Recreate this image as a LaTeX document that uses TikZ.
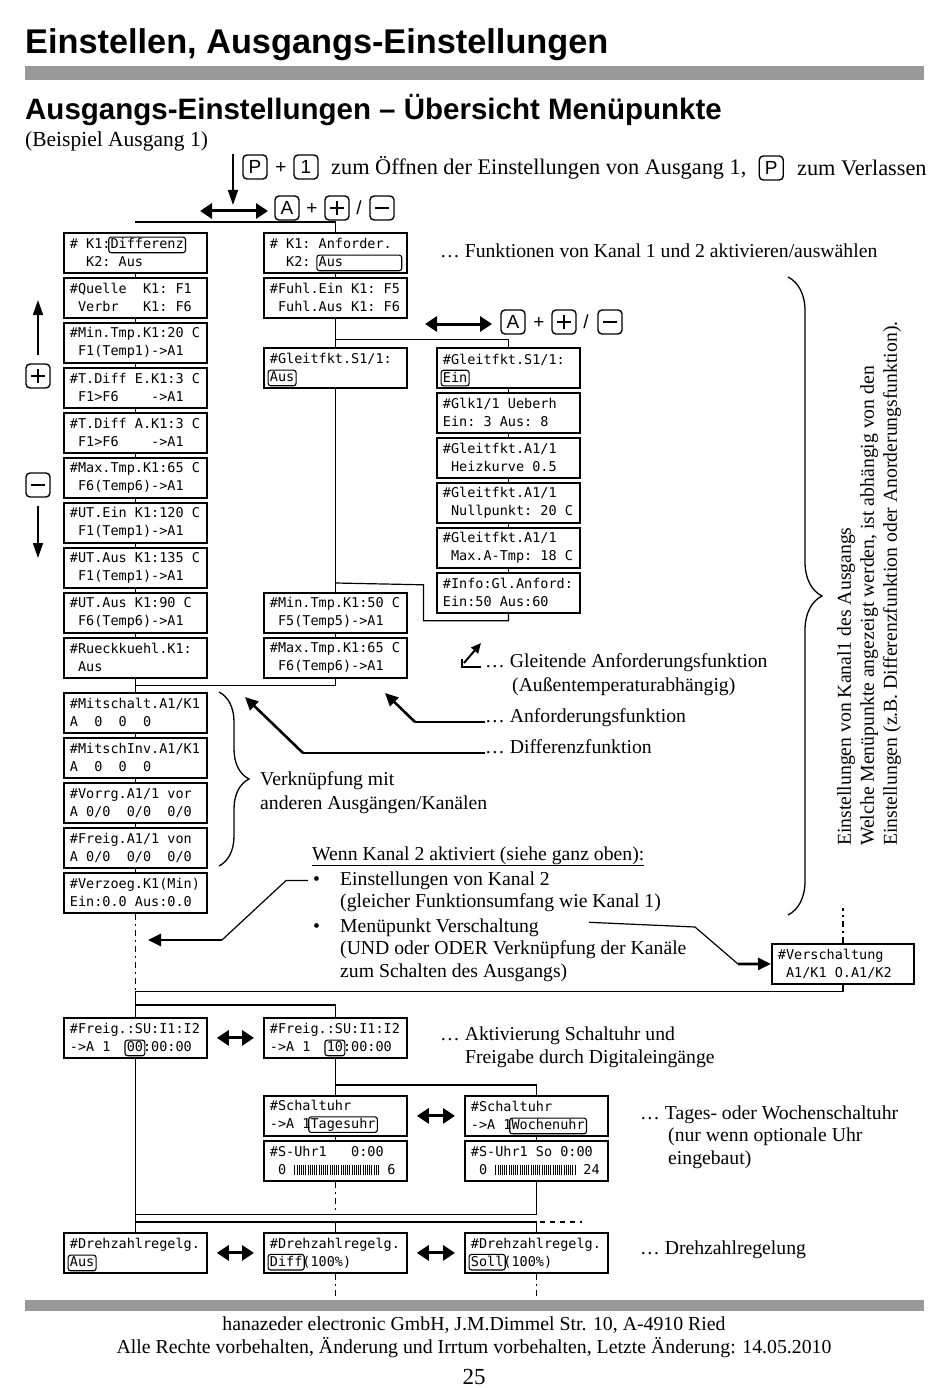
\documentclass[tikz,border=0pt]{standalone}
\usepackage{fontspec}
\setmainfont{Liberation Serif}
\newfontfamily\headfont{Liberation Sans}
\newfontfamily\lcdfont{DejaVu Sans Mono}
\usetikzlibrary{arrows.meta,decorations.pathreplacing,positioning,calc}
\newcommand\lcdf{\lcdfont\fontsize{13.5}{18}\selectfont\def~{\leavevmode\hphantom{0}}}
\newcommand\txtf{\fontsize{19.7}{22.5}\selectfont}
\newcommand\keyf{\headfont\fontsize{19}{22}\selectfont}
\newsavebox\hlbox
\newcommand\hl[1]{\sbox\hlbox{#1}\usebox\hlbox\hskip-\wd\hlbox\tikz[x=1pt,y=1pt,baseline=0pt]{\useasboundingbox (0pt,0pt) rectangle (\wd\hlbox,1pt);\draw[line width=1.1pt,rounded corners=2.5pt] (-1.8pt,-3.8pt) rectangle (\wd\hlbox+1.8pt,11.8pt);}}
\newcommand\bars[2]{\tikz[x=1pt,y=1pt,baseline=0pt]{\useasboundingbox (0pt,0pt) rectangle (#1pt,1pt);\foreach \i in {0,...,#2} \draw[line width=0.7pt] (\i*2.2pt+0.5pt,0pt) -- ++(0pt,9.5pt);}}
\tikzset{
 lcd/.style={draw,line width=1.8pt,fill=white,minimum width=143pt,minimum height=40pt,text width=131pt,inner xsep=6pt,inner ysep=1pt,align=left,anchor=north west,font=\lcdf},
 conn/.style={line width=1.2pt},
 dashc/.style={line width=1.2pt,dash pattern=on 6pt off 4pt on 2pt off 4pt},
 key/.style={draw,line width=1.4pt,rounded corners=4pt,minimum width=24pt,minimum height=24pt,inner sep=0pt,font=\keyf},
 pluskey/.style={key,path picture={\draw[line width=2.2pt] ([xshift=-7pt]path picture bounding box.center) -- ([xshift=7pt]path picture bounding box.center) ([yshift=-7pt]path picture bounding box.center) -- ([yshift=7pt]path picture bounding box.center);}},
 minuskey/.style={key,path picture={\draw[line width=2.2pt] ([xshift=-7pt]path picture bounding box.center) -- ([xshift=7pt]path picture bounding box.center);}},
 sym/.style={inner sep=0pt,font=\headfont\fontsize{19}{22}\selectfont},
 plain/.style={inner sep=0pt,anchor=base west,font=\txtf},
 thickarrow/.style={line width=2.6pt,-{Triangle[length=13pt,width=12pt]}},
 dblarrow/.style={line width=3pt,{Triangle[length=12pt,width=15pt]}-{Triangle[length=12pt,width=15pt]}},
 vkarrow/.style={line width=1.6pt,-{Triangle[length=15pt,width=10pt]}},
 graybar/.style={fill=black!40,draw=none},
 bracestyle/.style={line width=1.3pt,decorate},
}
\begin{document}
\begin{tikzpicture}[x=1pt,y=-1pt]
\useasboundingbox (0,0) rectangle (950,1388);
\fill[white] (0,0) rectangle (950,1388);
% headings
\node[inner sep=0pt,anchor=base west,font=\headfont\bfseries\fontsize{34.3}{40}\selectfont] (title) at (25,54) {Einstellen, Ausgangs-Einstellungen};
\fill[graybar] (25,66) rectangle (924,80);
\node[inner sep=0pt,anchor=base west,font=\headfont\bfseries\fontsize{29.5}{34}\selectfont] (sub) at (25,120) {Ausgangs-Einstellungen – Übersicht Menüpunkte};
\node[plain,font=\fontsize{21.5}{24}\selectfont] (bsp) at (25,147) {(Beispiel Ausgang 1)};
% top key line
\node[key] (kP) at (255,167) {P};
\node[sym] (pl1) at (281,168) {+};
\node[key] (k1) at (306,167) {1};
\node[inner sep=0pt,anchor=west,font=\fontsize{22.3}{25}\selectfont] (open) at (331,168) {zum Öffnen der Einstellungen von Ausgang 1,};
\node[key,right=12pt of open] (kP2) {P};
\node[inner sep=0pt,anchor=west,font=\fontsize{22.3}{25}\selectfont,right=13pt of kP2] (leave) {zum Verlassen};
\coordinate (dtop) at (233,154);
\coordinate (dbot) at (233,205);
\draw[vkarrow] (dtop) -- (dbot);
\coordinate (da1) at (200,211);
\coordinate (da2) at (268,211);
\draw[dblarrow] (da1) -- (da2);
\node[key] (kA1) at (287,208) {A};
\node[sym] (pl2) at (312,209) {+};
\node[pluskey] (kpl1) at (337,208) {};
\node[sym] (sl1) at (359,208) {/};
\node[minuskey] (kmi1) at (382,208) {};
% second key row
\coordinate (db1) at (425,324);
\coordinate (db2) at (492,324);
\draw[dblarrow] (db1) -- (db2);
\node[key] (kA2) at (513,322) {A};
\node[sym] (pl3) at (539,323) {+};
\node[pluskey] (kpl2) at (564,322) {};
\node[sym] (sl2) at (586,322) {/};
\node[minuskey] (kmi2) at (610,322) {};
% left +/- arrows
\node[pluskey] (kpl3) at (38,376) {};
\node[minuskey] (kmi3) at (38,485) {};
\coordinate (upt) at (38,300);
\coordinate (dnt) at (38,558);
\draw[vkarrow] ($(kpl3.north)+(0,-8)$) -- (upt);
\draw[vkarrow] ($(kmi3.south)+(0,8)$) -- (dnt);
% left column
\node[lcd] (L1) at (63,232) {\#~K1:\hl{Differenz}\\ ~~K2:~Aus};
\node[lcd] (L2) at (63,277) {\#Quelle~~K1:~F1\\ ~Verbr~~~K1:~F6};
\node[lcd] (L3) at (63,322) {\#Min.Tmp.K1:20~C\\ ~F1(Temp1)->A1};
\node[lcd] (L4) at (63,367) {\#T.Diff~E.K1:3~C\\ ~F1>F6~~~~->A1};
\node[lcd] (L5) at (63,412) {\#T.Diff~A.K1:3~C\\ ~F1>F6~~~~->A1};
\node[lcd] (L6) at (63,457) {\#Max.Tmp.K1:65~C\\ ~F6(Temp6)->A1};
\node[lcd] (L7) at (63,502) {\#UT.Ein~K1:120~C\\ ~F1(Temp1)->A1};
\node[lcd] (L8) at (63,547) {\#UT.Aus~K1:135~C\\ ~F1(Temp1)->A1};
\node[lcd] (L9) at (63,592) {\#UT.Aus~K1:90~C\\ ~F6(Temp6)->A1};
\node[lcd] (L10) at (63,637) {\#Rueckkuehl.K1:\\ ~Aus};
\node[lcd] (L11) at (63,692) {\#Mitschalt.A1/K1\\ A~~0~~0~~0};
\node[lcd] (L12) at (63,737) {\#MitschInv.A1/K1\\ A~~0~~0~~0};
\node[lcd] (L13) at (63,782) {\#Vorrg.A1/1~vor\\ A~0/0~~0/0~~0/0};
\node[lcd] (L14) at (63,827) {\#Freig.A1/1~von\\ A~0/0~~0/0~~0/0};
\node[lcd] (L15) at (63,872) {\#Verzoeg.K1(Min)\\ Ein:0.0~Aus:0.0};
% middle column
\node[lcd] (M1) at (263,232) {\#~K1:~Anforder.\\ ~~K2:~\hl{Aus~~~~~~~}};
\node[lcd] (M2) at (263,277) {\#Fuhl.Ein~K1:~F5\\ ~Fuhl.Aus~K1:~F6};
\node[lcd] (M3) at (263,347) {\#Gleitfkt.S1/1:\\ \hl{Aus}};
\node[lcd] (M4) at (263,592) {\#Min.Tmp.K1:50~C\\ ~F5(Temp5)->A1};
\node[lcd] (M5) at (263,637) {\#Max.Tmp.K1:65~C\\ ~F6(Temp6)->A1};
% right column
\node[lcd] (R1) at (436,347) {\#Gleitfkt.S1/1:\\ \hl{Ein}};
\node[lcd] (R2) at (436,392) {\#Glk1/1~Ueberh\\ Ein:~3~Aus:~8};
\node[lcd] (R3) at (436,437) {\#Gleitfkt.A1/1\\ ~Heizkurve~0.5};
\node[lcd] (R4) at (436,482) {\#Gleitfkt.A1/1\\ ~Nullpunkt:~20~C};
\node[lcd] (R5) at (436,527) {\#Gleitfkt.A1/1\\ ~Max.A-Tmp:~18~C};
\node[lcd] (R6) at (436,572) {\#Info:Gl.Anford:\\ Ein:50~Aus:60};
% Verschaltung
\node[lcd,minimum width=142pt,text width=130pt] (V) at (771,943) {\#Verschaltung\\ ~A1/K1~O.A1/K2};
% lower boxes
\node[lcd] (F1) at (63,1017) {\#Freig.:SU:I1:I2\\ ->A~1~~\hl{00}:00:00};
\node[lcd] (F2) at (263,1017) {\#Freig.:SU:I1:I2\\ ->A~1~~\hl{10}:00:00};
\node[lcd] (S1) at (263,1095) {\#Schaltuhr\\ ->A~1\hl{Tagesuhr}};
\node[lcd] (S2) at (464,1095) {\#Schaltuhr\\ ->A~1\hl{Wochenuhr}};
\node[lcd] (S1b) at (263,1140) {\#S-Uhr1~~~0:00\\ ~0~\bars{85}{38}~6};
\node[lcd] (S2b) at (464,1140) {\#S-Uhr1~So~0:00\\ ~0~\bars{80}{36}~24};
\node[lcd] (D1) at (63,1232) {\#Drehzahlregelg.\\ \hl{Aus}};
\node[lcd] (D2) at (263,1232) {\#Drehzahlregelg.\\ \hl{Diff}(100\%)};
\node[lcd] (D3) at (464,1232) {\#Drehzahlregelg.\\ \hl{Soll}(100\%)};
% connectors upper
\draw[conn] (L1.north) ++(0,-10) -| (M1.north);
\foreach \a/\b in {L1/L2,L2/L3,L3/L4,L4/L5,L5/L6,L6/L7,L7/L8,L8/L9,L9/L10,L10/L11,L11/L12,L12/L13,L13/L14,L14/L15,M1/M2,M2/M3,M3/M4,M4/M5,R1/R2,R2/R3,R3/R4,R4/R5,R5/R6,S1/S1b,S2/S2b}
  \draw[conn] (\a.south) -- (\b.north);
\draw[conn] (M2.south) -- ++(0,21) -| (R1.north);
\draw[conn] (R6.south) -- ++(0,7) -- ++(-85,0) -- ++(0,-36) -- (M3.south |- 0,583);
\draw[conn] (M5.south) -- ++(0,7) -| (L11.north);
% connectors lower
\draw[dashc] (L15.south) -- ++(0,78) coordinate (j1);
\draw[conn] (V.south) -- ++(0,7) -| (j1);
\draw[dashc] (V.north) -- ++(0,-35);
\draw[conn] (j1) -- (F1.north);
\draw[conn] (F1.north) ++(0,-12) -| (F2.north);
\draw[conn] (F1.south) -- (D1.north);
\draw[conn] (F2.south) -- (S1.north);
\draw[conn] (S1.north) ++(0,-10) -| (S2.north);
\draw[dashc] (S1b.south) -- ++(0,33);
\draw[conn] (S2b.south) -- ++(0,33) -| (D1.north);
\draw[conn] (D1.north) ++(0,-10) -| (D3.north);
\draw[conn] (D2.north) -- ++(0,-10);
\draw[conn,dash pattern=on 5pt off 5pt] (D3.north) ++(4,-10) -- ++(42,0);
\draw[dashc] (D2.south) -- ++(0,22);
\draw[dashc] (D3.south) -- ++(0,22);
% double arrows
\draw[dblarrow] ($(F1.east)+(9,0)$) -- ($(F2.west)+(-9,0)$);
\draw[dblarrow] ($(S1.east)+(9,0)$) -- ($(S2.west)+(-9,0)$);
\draw[dblarrow] ($(D1.east)+(9,0)$) -- ($(D2.west)+(-9,0)$);
\draw[dblarrow] ($(D2.east)+(9,0)$) -- ($(D3.west)+(-9,0)$);
% annotations
\node[plain] (tFun) at (440,258) {… Funktionen von Kanal 1 und 2 aktivieren/auswählen};
\node[plain] (tGl) at (485,667) {… Gleitende Anforderungsfunktion};
\node[plain] (tGl2) at (512,691) {(Außentemperaturabhängig)};
\node[plain] (tAnf) at (485,722) {… Anforderungsfunktion};
\node[plain] (tDif) at (485,753) {… Differenzfunktion};
\draw[line width=1.2pt] (481,667) -- (462,667) -- (462,659);
\draw[line width=2pt,-{Triangle[length=10pt,width=9pt]}] (464,663) -- (481,643);
\draw[conn] (tAnf.base west) -- ++(-70,0) coordinate (ca);
\draw[thickarrow] (ca) -- (385,693);
\draw[conn] (tDif.base west) -- ++(-182,0) coordinate (cd);
\draw[thickarrow] (cd) -- (245,697);
\draw[bracestyle,decoration={brace,amplitude=30pt}] (219,692) -- (219,866);
\node[plain] (tVk1) at (260,785) {Verknüpfung mit};
\node[plain] (tVk2) at (260,809) {anderen Ausgängen/Kanälen};
\draw[bracestyle,decoration={brace,amplitude=34pt}] (788,277) -- (788,915);
\node[rotate=90,anchor=north west,align=left,inner sep=0pt,font=\fontsize{19.7}{23}\selectfont] (rot) at (837,846) {Einstellungen von Kanal1 des Ausgangs\\Welche Menüpunkte angezeigt werden, ist abhängig von den\\Einstellungen (z.B. Differenzfunktion oder Anorderungsfunktion).};
\node[plain] (tWenn) at (312,860) {\underline{Wenn Kanal 2 aktiviert (siehe ganz oben):}};
\node[plain] (b1) at (313,885) {•};
\node[plain] (tK1) at (340,885) {Einstellungen von Kanal 2};
\node[plain] (tK2) at (340,907) {(gleicher Funktionsumfang wie Kanal 1)};
\node[plain] (b2) at (313,932) {•};
\node[plain] (tK3) at (340,932) {Menüpunkt Verschaltung};
\node[plain] (tK4) at (340,954) {(UND oder ODER Verknüpfung der Kanäle};
\node[plain] (tK5) at (340,977) {zum Schalten des Ausgangs)};
\draw[conn] ($(b1.west)+(-5,0)$) -- ++(-22,0) -- (222,940) coordinate (ck);
\draw[thickarrow] (ck) -- (148,940);
\draw[conn] ($(tK3.east)+(50,-5)$) -- (695,927) -- (738,964) coordinate (cv);
\draw[thickarrow] (cv) -- (V.west);
\node[plain] (tAkt1) at (440,1040) {… Aktivierung Schaltuhr und};
\node[plain] (tAkt2) at (465,1063) {Freigabe durch Digitaleingänge};
\node[plain] (tTag1) at (640,1119) {… Tages- oder Wochenschaltuhr};
\node[plain] (tTag2) at (668,1141) {(nur wenn optionale Uhr};
\node[plain] (tTag3) at (668,1164) {eingebaut)};
\node[plain] (tDz) at (640,1254) {… Drehzahlregelung};
% footer
\fill[graybar] (25,1300) rectangle (924,1311);
\node[inner sep=0pt,anchor=base,font=\fontsize{19.8}{22}\selectfont] (f1) at (474,1330) {hanazeder electronic GmbH, J.M.Dimmel Str. 10, A-4910 Ried};
\node[inner sep=0pt,anchor=base,font=\fontsize{19.8}{22}\selectfont] (f2) at (474,1353) {Alle Rechte vorbehalten, Änderung und Irrtum vorbehalten, Letzte Änderung: 14.05.2010};
\node[inner sep=0pt,anchor=base,font=\fontsize{23}{26}\selectfont] (f3) at (474,1384) {25};
\end{tikzpicture}
\end{document}
